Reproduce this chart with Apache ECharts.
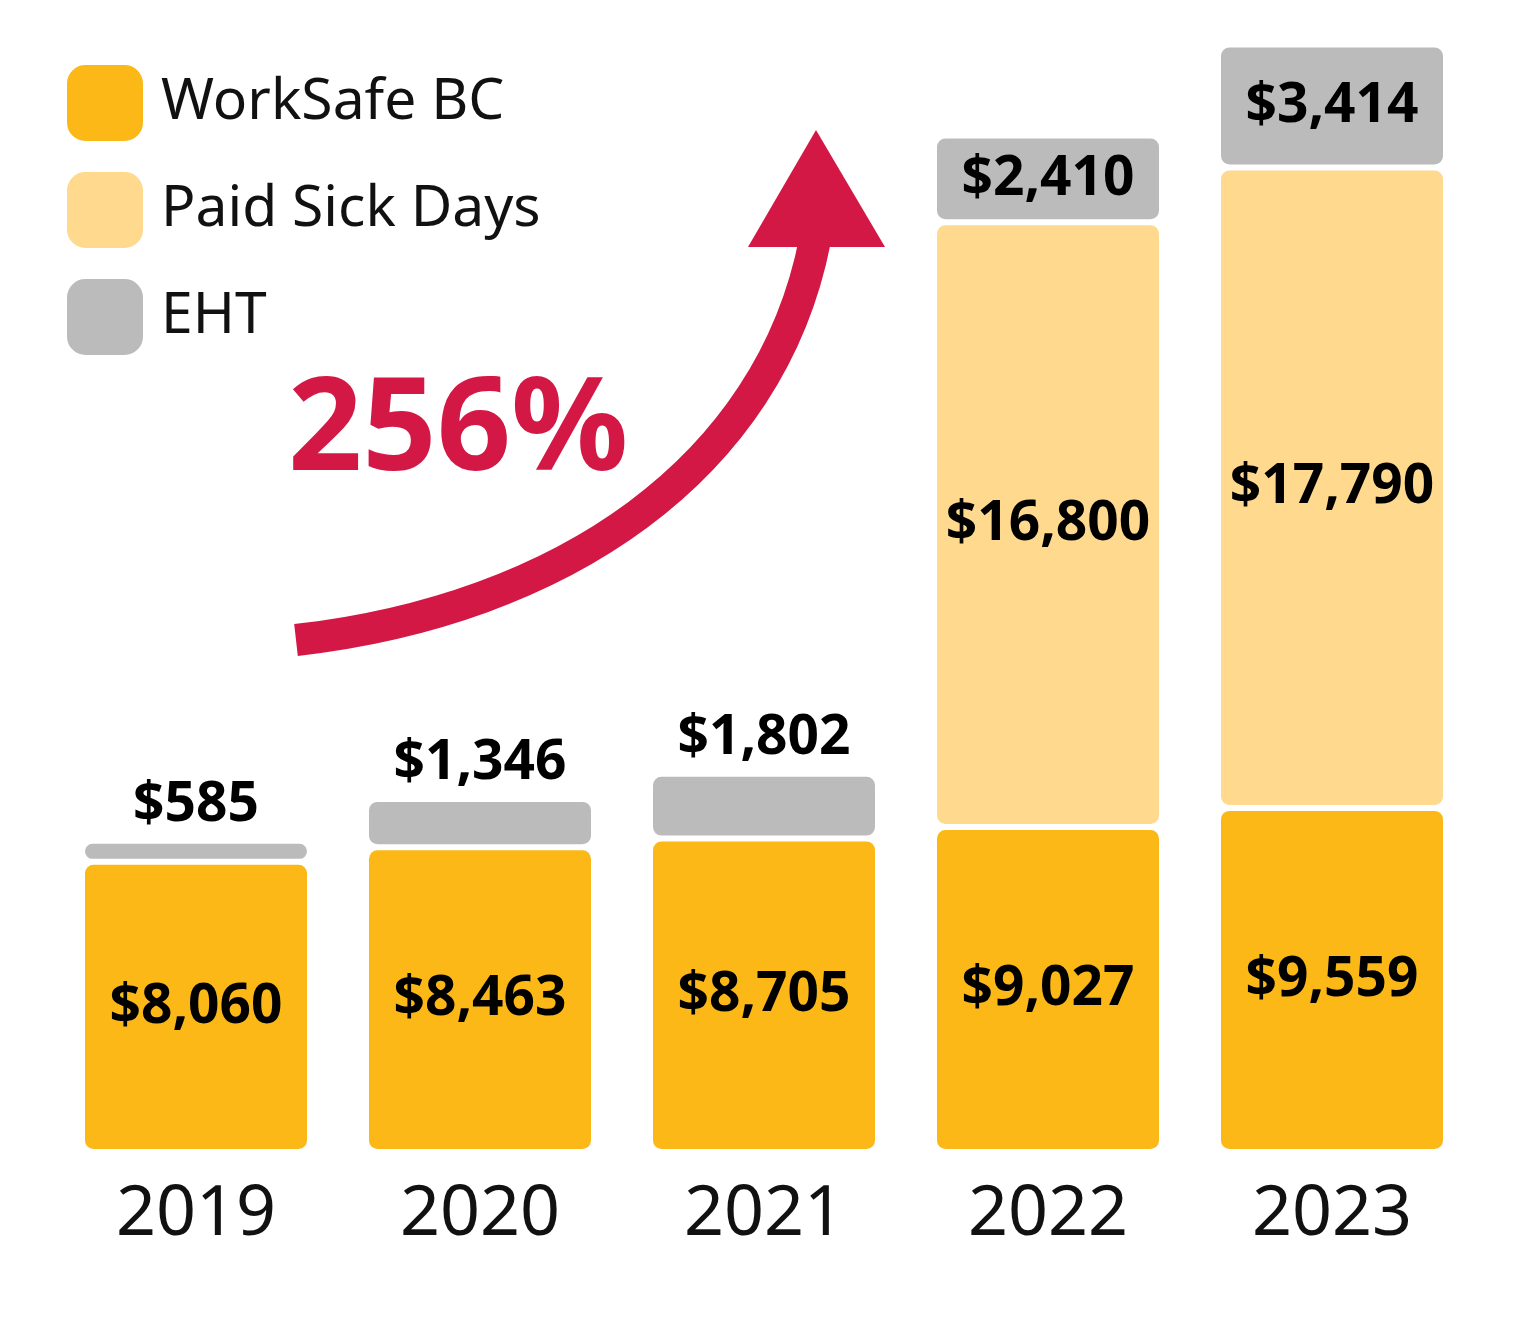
<!DOCTYPE html><html><head><meta charset="utf-8">
<script src="https://cdn.jsdelivr.net/npm/echarts@6/dist/echarts.min.js"></script>
<style>html,body{margin:0;background:#fff}#c{width:1540px;height:1320px}</style></head><body><div id="c"></div>
<script>
const years=['2019','2020','2021','2022','2023'];
const workSafe=[8060,8463,8705,9027,9559];
const sickDays=[0,0,0,16800,17790];
const eht=[585,1346,1802,2410,3414];
const F='"Noto Sans", sans-serif';
const fmt=v=>'$'+v.toLocaleString('en-US');
const lbl={fontFamily:F,fontWeight:'bold',fontSize:55,color:'#000'};
const chart=echarts.init(document.getElementById('c'));
chart.setOption({
  animation:false,
  grid:{left:54,right:66,top:0,bottom:168},
  legend:{orient:'vertical',left:60,top:58,itemWidth:78,itemHeight:78,itemGap:27,icon:'roundRect',
    textStyle:{fontFamily:F,fontSize:57,color:'#111',padding:[0,0,0,12]},data:['WorkSafe BC','Paid Sick Days','EHT']},
  xAxis:{type:'category',data:years,axisLine:{show:false},axisTick:{show:false},
    axisLabel:{fontFamily:F,fontSize:70,color:'#111',margin:28}},
  yAxis:{type:'value',min:0,max:32000,show:false,splitLine:{show:false}},
  series:[
    {name:'WorkSafe BC',type:'bar',stack:'a',barWidth:228,data:workSafe,
     itemStyle:{color:'#FBB817',borderColor:'#fff',borderWidth:3,borderRadius:10},
     label:{show:true,position:'inside',formatter:p=>fmt(p.value),...lbl}},
    {name:'Paid Sick Days',type:'bar',stack:'a',data:sickDays,
     itemStyle:{color:'#FED98E',borderColor:'#fff',borderWidth:3,borderRadius:10},
     label:{show:true,position:'inside',formatter:p=>p.value?fmt(p.value):'',...lbl}},
    {name:'EHT',type:'bar',stack:'a',data:eht.map((v,i)=>({value:v,label:{position:sickDays[i]?'inside':'top',distance:8}})),
     itemStyle:{color:'#BBBBBB',borderColor:'#fff',borderWidth:3,borderRadius:10},
     label:{show:true,formatter:p=>fmt(p.value),...lbl}}
  ],
  graphic:[
    {type:'bezierCurve',shape:{x1:296,y1:640,cpx1:560,cpy1:610,cpx2:770,cpy2:470,x2:815,y2:240},
     style:{stroke:'#D31845',lineWidth:32,fill:null}},
    {type:'polygon',shape:{points:[[748,247],[816,130],[885,247]]},style:{fill:'#D31845'}},
    {type:'text',left:288,top:368,style:{text:'256%',font:'bold 130px "Noto Sans", sans-serif',fill:'#D31845'}}
  ]
});
</script></body></html>
